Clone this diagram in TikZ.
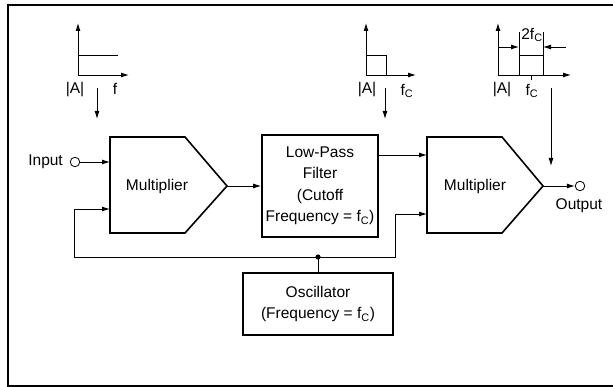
\documentclass[tikz,border=0pt]{standalone}
\usepackage{fontspec}
\setmainfont{Liberation Sans}
\usetikzlibrary{arrows.meta}
\begin{document}
\begin{tikzpicture}[x=1pt,y=-1pt,
  every node/.style={font=\fontsize{15.5}{21.5}\selectfont, inner sep=0pt},
  blk/.style={draw, line width=1.6pt, line join=miter},
  boxnode/.style={draw, line width=1.6pt, align=center},
  conn/.style={line width=0.9pt},
  arr/.style={conn, -{Latex[length=8pt,width=5pt]}},
  term/.style={circle, draw, line width=0.8pt, minimum size=9.5pt, fill=white},
  lbl/.style={font=\fontsize{15.5}{17}\selectfont}
]
\useasboundingbox (0,0) rectangle (613,387);
% frame
\draw[line width=1.8pt] (613,5) -- (8,5) -- (8,386) -- (613,386);

% multiplier 1
\draw[blk] (110,137) -- (185,137) -- (227,186) -- (185,233) -- (110,233) -- cycle;
\node (m1) at (157,186) {Multiplier};
\coordinate (m1a) at (110,162);
\coordinate (m1b) at (110,209);
\coordinate (m1o) at (227,186);

% multiplier 2
\draw[blk] (427,137) -- (502,137) -- (543,186) -- (502,233) -- (427,233) -- cycle;
\node (m2) at (475,186) {Multiplier};
\coordinate (m2a) at (427,155);
\coordinate (m2b) at (427,214);
\coordinate (m2o) at (543,186);

% low pass filter
\node[boxnode, minimum width=116pt, minimum height=102pt] (lpf) at (320,186)
  {Low-Pass\\Filter\\(Cutoff\\Frequency = f\textsubscript{C})};
\coordinate (lpfo) at (378,155);

% oscillator
\node[boxnode, minimum width=150pt, minimum height=62pt] (osc) at (318,304)
  {Oscillator\\(Frequency = f\textsubscript{C})};

% terminals
\node[term] (in) at (75,162) {};
\node[anchor=east] (inlbl) at (63,162) {Input};
\node[term] (out) at (580,186) {};
\node (outlbl) at (579,206) {Output};

% connectors
\draw[arr] (in) -- (m1a);
\draw[arr] (m1o) -- (lpf.west |- m1o);
\draw[arr] (lpfo) -- (m2a);
\draw[arr] (m2o) -- (out);
\coordinate (junc) at (318,257);
\draw[conn] (osc.north) -- (junc);
\draw[arr] (junc) -- (74,257) |- (m1b);
\draw[arr] (junc) -- (395,257) |- (m2b);
\fill (junc) circle (2.6pt);

% plot 1
\coordinate (o1) at (78,75);
\draw[arr] (o1) -- (78,23);
\draw[arr] (o1) -- (129,75);
\draw[conn] (78,55) -- (118,55);
\node[lbl] (a1) at (75,90) {|A|};
\node[lbl] (f1) at (115,89) {f};
\coordinate (d1s) at (97,88);
\coordinate (d1e) at (97,119);
\draw[arr] (d1s) -- (d1e);

% plot 2
\coordinate (o2) at (366,75);
\draw[arr] (o2) -- (366,23);
\draw[arr] (o2) -- (416,75);
\draw[conn] (366,55) -- (386,55) -- (386,75);
\node[lbl] (a2) at (367,90) {|A|};
\node[lbl] (f2) at (407,91) {f\textsubscript{C}};
\coordinate (d2s) at (385,88);
\coordinate (d2e) at (385,119);
\draw[arr] (d2s) -- (d2e);

% plot 3
\coordinate (o3) at (498,75);
\draw[arr] (o3) -- (498,23);
\draw[arr] (o3) -- (571,75);
\draw[conn] (519,75) -- (519,32) (543,75) -- (543,32) (519,55) -- (543,55);
\draw[conn] (531,75) -- (531,80);
\coordinate (l3) at (498,47);
\coordinate (r3) at (566,47);
\draw[arr] (l3) -- (519,47);
\draw[arr] (r3) -- (543,47);
\node[lbl] (w3) at (532,35) {2f\textsubscript{C}};
\node[lbl] (a3) at (502,90) {|A|};
\node[lbl] (f3) at (532,91) {f\textsubscript{C}};
\coordinate (d3s) at (551,88);
\draw[arr] (d3s) -- (551,166);
\end{tikzpicture}
\end{document}
